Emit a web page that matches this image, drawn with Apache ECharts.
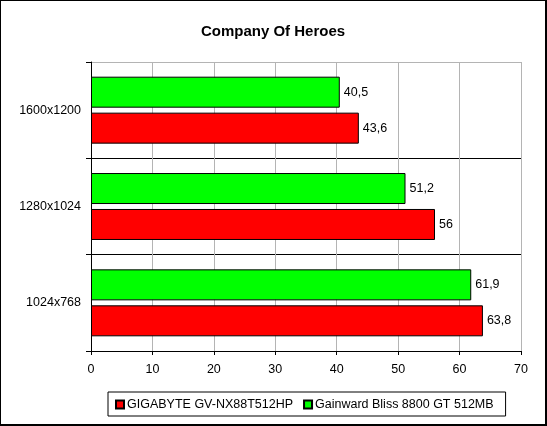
<!DOCTYPE html>
<html><head>
<meta charset="UTF-8">
<title>Company Of Heroes</title>
<script src="https://cdn.jsdelivr.net/npm/echarts@6/dist/echarts.min.js"></script>
<style>
html,body{margin:0;padding:0;background:#fff;}
#chart{width:547px;height:426px;box-sizing:border-box;border:1px solid #000;border-right-width:2px;border-bottom-width:2px;}
</style>
</head>
<body>
<div id="chart"></div>
<script>
// resolutions, bottom to top as ECharts draws a category y axis
var resolutions = ['1024x768', '1280x1024', '1600x1200'];
var gigabyte = [63.8, 56, 43.6];
var gainward = [61.9, 51.2, 40.5];
var seriesNames = ['GIGABYTE GV-NX88T512HP', 'Gainward Bliss 8800 GT 512MB'];

var font = 'Liberation Sans, Arial, sans-serif';
function comma(p){ return String(p.value).replace('.', ','); }
var valueLabel = {show: true, position: 'right', distance: 4, formatter: comma,
    fontFamily: font, fontSize: 12.5, color: '#000'};

var chart = echarts.init(document.getElementById('chart'));
chart.setOption({
    animation: false,
    title: {text: 'Company Of Heroes', left: 'center', top: 18,
        textStyle: {fontFamily: font, fontSize: 15, fontWeight: 'bold', color: '#000'}},
    grid: {left: 90, right: 24, top: 61, bottom: 73},
    legend: {
        bottom: 8, left: 107,
        data: seriesNames,
        icon: 'rect', itemWidth: 8, itemHeight: 8, itemGap: 10,
        borderColor: '#000', borderWidth: 1, padding: [6, 12, 5, 7],
        textStyle: {fontFamily: font, fontSize: 12.5, color: '#000', padding: [0, 0, 0, -2]}
    },
    xAxis: {
        type: 'value', min: 0, max: 70, interval: 10,
        axisLine: {show: true, lineStyle: {color: '#000'}},
        axisTick: {show: true, length: 4, lineStyle: {color: '#000'}},
        axisLabel: {fontFamily: font, fontSize: 12.5, color: '#000', margin: 12},
        splitLine: {show: true, lineStyle: {color: '#b4b4b4'}}
    },
    yAxis: {
        type: 'category', data: resolutions,
        axisLine: {show: true, lineStyle: {color: '#000'}},
        axisTick: {show: true, length: 5, lineStyle: {color: '#000'}},
        axisLabel: {fontFamily: font, fontSize: 12.5, color: '#000', margin: 10},
        splitLine: {show: true, lineStyle: {color: ['#000', '#000', '#000', '#b4b4b4']}}
    },
    series: [
        {name: seriesNames[1], type: 'bar', data: gainward, barWidth: 31, barGap: '16%',
            itemStyle: {color: '#00ff00', borderColor: '#000', borderWidth: 1},
            label: valueLabel},
        {name: seriesNames[0], type: 'bar', data: gigabyte, barWidth: 31, barGap: '16%',
            itemStyle: {color: '#ff0000', borderColor: '#000', borderWidth: 1},
            label: valueLabel}
    ]
});
</script>
</body></html>
